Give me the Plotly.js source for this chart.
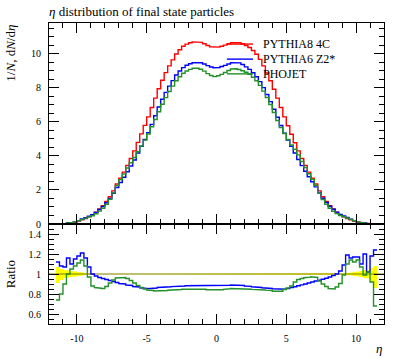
<!DOCTYPE html>
<html><head><meta charset="utf-8">
<script src="https://cdn.plot.ly/plotly-3.0.1.min.js"></script>
<style>html,body{margin:0;padding:0;background:#fff}#chart{width:397px;height:358px}</style>
</head><body><div id="chart"></div>
<script>
// Binning of eta
const binLow = -12, binWidth = 0.25, nBins = 96;

// 1/N dN/deta per bin
const pythia8 = [0.002,0.005,0.01,0.02,0.03,0.05,0.08,0.12,0.17,0.24,0.32,0.43,0.55,0.7,0.88,1.08,1.32,1.6,1.95,2.35,2.7,3.05,3.45,3.85,4.3,4.8,5.3,5.8,6.3,6.85,7.4,7.95,8.45,8.9,9.3,9.65,10.0,10.25,10.45,10.58,10.66,10.71,10.72,10.68,10.6,10.5,10.42,10.38,
 10.4,10.45,10.52,10.6,10.66,10.68,10.66,10.6,10.5,10.38,10.2,9.98,9.68,9.3,8.88,8.42,7.92,7.4,6.85,6.3,5.78,5.28,4.78,4.3,3.85,3.45,3.05,2.7,2.35,1.95,1.6,1.32,1.08,0.88,0.7,0.55,0.43,0.32,0.24,0.17,0.12,0.08,0.05,0.03,0.02,0.01,0.005,0.002];
const pythia6 = [0.002,0.005,0.011,0.022,0.032,0.058,0.088,0.138,0.2,0.29,0.371,0.46,0.55,0.686,0.849,1.031,1.247,1.496,1.804,2.15,2.444,2.745,3.071,3.407,3.763,4.176,4.569,4.971,5.374,5.857,6.364,6.877,7.335,7.743,8.11,8.434,8.76,9.0,9.196,9.332,9.423,9.489,9.509,9.484,9.413,9.314,9.232,9.186,
 9.204,9.259,9.331,9.413,9.487,9.516,9.477,9.381,9.24,9.093,8.894,8.663,8.373,8.017,7.619,7.199,6.748,6.275,5.795,5.342,4.942,4.562,4.173,3.793,3.43,3.105,2.776,2.484,2.186,1.829,1.517,1.265,1.048,0.867,0.7,0.567,0.469,0.381,0.278,0.199,0.14,0.088,0.06,0.031,0.024,0.012,0.005,0.002];
const phojet = [0.002,0.004,0.0074,0.016,0.027,0.05,0.084,0.13,0.189,0.274,0.346,0.417,0.484,0.606,0.755,0.923,1.155,1.456,1.833,2.256,2.611,2.943,3.295,3.6,3.913,4.248,4.585,4.93,5.292,5.72,6.142,6.599,7.039,7.432,7.793,8.106,8.42,8.661,8.862,8.993,9.093,9.157,9.166,9.099,8.989,8.841,8.732,8.667,
 8.715,8.799,8.91,9.031,9.114,9.131,9.082,9.01,8.925,8.802,8.629,8.423,8.151,7.812,7.441,7.031,6.558,6.083,5.672,5.324,4.971,4.646,4.398,4.064,3.677,3.322,2.952,2.624,2.268,1.814,1.44,1.155,0.923,0.748,0.609,0.498,0.426,0.352,0.274,0.19,0.137,0.086,0.05,0.031,0.018,0.007,0.004,0.002];

// Ratios to PYTHIA8 4C
const ratioPythia6 = [null,null,1.12,1.08,1.07,1.16,1.10,1.15,1.18,1.21,1.16,1.07,1.0,0.98,0.965,0.955,0.945,0.935,0.925,0.915,0.905,0.9,0.89,0.885,0.875,0.87,0.862,0.857,0.853,0.855,0.86,0.865,0.868,0.87,0.872,0.874,0.876,0.878,0.88,0.882,0.884,0.886,0.887,0.888,0.888,0.887,0.886,0.885,
 0.885,0.886,0.887,0.888,0.89,0.891,0.889,0.885,0.88,0.876,0.872,0.868,0.865,0.862,0.858,0.855,0.852,0.848,0.846,0.848,0.855,0.864,0.873,0.882,0.891,0.9,0.91,0.92,0.93,0.938,0.948,0.958,0.97,0.985,1.0,1.03,1.09,1.19,1.16,1.17,1.17,1.10,1.20,1.02,1.18,1.24,null,null];
const ratioPhojet = [null,null,0.74,0.80,0.90,1.0,1.05,1.08,1.11,1.14,1.08,0.97,0.88,0.865,0.858,0.855,0.875,0.91,0.94,0.96,0.967,0.965,0.955,0.935,0.91,0.885,0.865,0.85,0.84,0.835,0.83,0.83,0.833,0.835,0.838,0.84,0.842,0.845,0.848,0.85,0.853,0.855,0.855,0.852,0.848,0.842,0.838,0.835,
 0.838,0.842,0.847,0.852,0.855,0.855,0.852,0.85,0.85,0.848,0.846,0.844,0.842,0.84,0.838,0.835,0.828,0.822,0.828,0.845,0.86,0.88,0.92,0.945,0.955,0.963,0.968,0.972,0.965,0.93,0.9,0.875,0.855,0.85,0.87,0.905,0.99,1.1,1.14,1.12,1.14,1.07,0.99,1.02,0.92,0.68,null,null];

// Relative uncertainty of the reference (PYTHIA8 4C)
const refErrUp = [0,0,0.07,0.05,0.04,0.035,0.03,0.025,0.02,0.015,0.01,0.007,
 0,0,0,0,0,0,0,0,0,0,0,0,0,0,0,0,0,0,0,0,0,0,0,0,0,0,0,0,0,0,0,0,0,0,0,0,
 0,0,0,0,0,0,0,0,0,0,0,0,0,0,0,0,0,0,0,0,0,0,0,0,0,0,0,0,0,0,0,0,0,0,0,0,
 0.007,0.01,0.015,0.02,0.025,0.03,0.04,0.045,0.06,0.08,0,0];
const refErrDown = [0,0,0.09,0.06,0.04,0.035,0.03,0.025,0.02,0.015,0.01,0.007,
 0,0,0,0,0,0,0,0,0,0,0,0,0,0,0,0,0,0,0,0,0,0,0,0,0,0,0,0,0,0,0,0,0,0,0,0,
 0,0,0,0,0,0,0,0,0,0,0,0,0,0,0,0,0,0,0,0,0,0,0,0,0,0,0,0,0,0,0,0,0,0,0,0,
 0.007,0.01,0.015,0.02,0.025,0.03,0.04,0.045,0.07,0.14,0,0];

const seriesNames = ['PYTHIA8 4C', 'PYTHIA6 Z2*', 'PHOJET'];
const seriesColors = ['#ff0000', '#0000ff', '#23902a'];
const xTickVals = [-10, -5, 0, 5, 10];
const xTickText = ['-10', '-5', '0', '5', '10'];

const edges = [];
for (let i = 0; i <= nBins; i++) edges.push(binLow + i * binWidth);

function stepXY(vals) {
  const xs = [], ys = [];
  vals.forEach((v, i) => {
    if (v === null) { xs.push(null); ys.push(null); return; }
    xs.push(edges[i], edges[i + 1]); ys.push(v, v);
  });
  return {x: xs, y: ys};
}

const traces = [];
[pythia8, pythia6, phojet].forEach((vals, k) => {
  const s = stepXY(vals);
  traces.push({type:'scatter', mode:'lines', x:s.x, y:s.y, xaxis:'x', yaxis:'y',
    line:{color:seriesColors[k], width:1.4}, name:seriesNames[k], hoverinfo:'skip'});
});
const lo = stepXY(refErrDown.map(e => 1 - e));
const hi = stepXY(refErrUp.map(e => 1 + e));
traces.push({type:'scatter', mode:'lines', x:lo.x, y:lo.y, xaxis:'x2', yaxis:'y2',
  line:{width:0, color:'rgba(0,0,0,0)'}, hoverinfo:'skip'});
traces.push({type:'scatter', mode:'lines', x:hi.x, y:hi.y, xaxis:'x2', yaxis:'y2',
  line:{width:0, color:'rgba(0,0,0,0)'}, fill:'tonexty', fillcolor:'#ffff00', hoverinfo:'skip'});
traces.push({type:'scatter', mode:'lines', x:[edges[0], edges[nBins]], y:[1, 1], xaxis:'x2', yaxis:'y2',
  line:{color:'#808000', width:1.2}, hoverinfo:'skip'});
[ratioPythia6, ratioPhojet].forEach((vals, k) => {
  const s = stepXY(vals);
  traces.push({type:'scatter', mode:'lines', x:s.x, y:s.y, xaxis:'x2', yaxis:'y2',
    line:{color:seriesColors[k + 1], width:1.4}, hoverinfo:'skip'});
});

const fontFam = '"Liberation Serif", "DejaVu Serif", serif';
const axBase = {showgrid:false, zeroline:false, showline:true, linecolor:'#000', linewidth:1,
  mirror:'allticks', ticks:'inside', ticklen:10, tickcolor:'#000', tickwidth:1,
  tickfont:{family:fontFam, size:10, color:'#000'}};
const split = 100 / 301;

const legendRowsY = [0.930, 0.880, 0.831];
const shapes = [], annotations = [];
seriesNames.forEach((n, k) => {
  shapes.push({type:'line', xref:'paper', yref:'paper', x0:0.531, x1:0.609, y0:legendRowsY[k], y1:legendRowsY[k],
    line:{color:seriesColors[k], width:1.4}});
  annotations.push({xref:'paper', yref:'paper', x:0.633, y:legendRowsY[k], xanchor:'left', yanchor:'middle',
    text:n, showarrow:false, font:{family:fontFam, size:12, color:'#000'}});
});
annotations.push({xref:'paper', yref:'paper', x:-0.116, y:1.0, xanchor:'center', yanchor:'top', textangle:-90,
  text:'1/<i>N</i>, d<i>N</i>/d<i>η</i>', showarrow:false, font:{family:fontFam, size:13, color:'#000'}});
annotations.push({xref:'paper', yref:'paper', x:-0.116, y:0.166, xanchor:'center', yanchor:'middle', textangle:-90,
  text:'Ratio', showarrow:false, font:{family:fontFam, size:13, color:'#000'}});
annotations.push({xref:'paper', yref:'paper', x:1.0, y:-0.083, xanchor:'right', yanchor:'middle',
  text:'<i>η</i>', showarrow:false, font:{family:fontFam, size:13, color:'#000'}});

const layout = {
  width:397, height:358, margin:{l:49, r:13, t:23, b:34},
  paper_bgcolor:'#fff', plot_bgcolor:'#fff', showlegend:false,
  font:{family:fontFam, size:10, color:'#000'},
  title:{text:'<i>η</i> distribution of final state particles', x:49/397, xanchor:'left', y:1 - 11/358, yanchor:'middle',
    font:{family:fontFam, size:13, color:'#000'}},
  xaxis:Object.assign({}, axBase, {domain:[0,1], anchor:'y', range:[binLow, binLow + nBins*binWidth],
    tickmode:'array', tickvals:xTickVals, showticklabels:false,
    minor:{tickmode:'linear', tick0:0, dtick:1, ticks:'inside', ticklen:5, tickcolor:'#000', showgrid:false}}),
  yaxis:Object.assign({}, axBase, {domain:[split,1], anchor:'x', range:[0, 11.82],
    tickmode:'linear', tick0:0, dtick:2, ticklabelstandoff:5,
    minor:{tickmode:'linear', tick0:0, dtick:0.5, ticks:'inside', ticklen:5, tickcolor:'#000', showgrid:false}}),
  xaxis2:Object.assign({}, axBase, {domain:[0,1], anchor:'y2', range:[binLow, binLow + nBins*binWidth],
    tickmode:'array', tickvals:xTickVals, ticktext:xTickText, ticklabelstandoff:5,
    minor:{tickmode:'linear', tick0:0, dtick:1, ticks:'inside', ticklen:5, tickcolor:'#000', showgrid:false}}),
  yaxis2:Object.assign({}, axBase, {domain:[0,split], anchor:'x2', range:[0.5, 1.5],
    tickmode:'linear', tick0:0, dtick:0.2, ticklabelstandoff:5,
    minor:{tickmode:'linear', tick0:0, dtick:0.05, ticks:'inside', ticklen:5, tickcolor:'#000', showgrid:false}}),
  shapes:shapes, annotations:annotations
};

Plotly.newPlot('chart', traces, layout, {displayModeBar:false, staticPlot:true});
</script>
</body></html>
